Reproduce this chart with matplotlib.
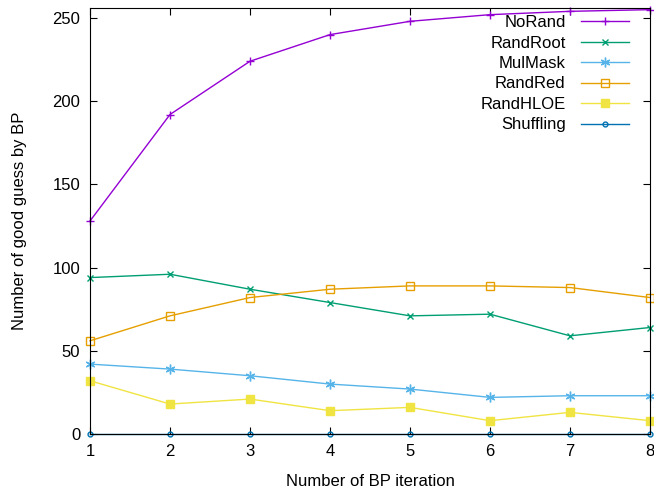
import numpy as np
import matplotlib.pyplot as plt

plt.rcParams['font.family'] = ['Liberation Sans', 'DejaVu Sans']

iterations = [1, 2, 3, 4, 5, 6, 7, 8]
norand = [128, 192, 224, 240, 248, 252, 254, 255]
randroot = [94, 96, 87, 79, 71, 72, 59, 64]
mulmask = [42, 39, 35, 30, 27, 22, 23, 23]
randred = [56, 71, 82, 87, 89, 89, 88, 82]
randhloe = [32, 18, 21, 14, 16, 8, 13, 8]
shuffling = [0, 0, 0, 0, 0, 0, 0, 0]

fig = plt.figure(figsize=(6.54, 4.91), dpi=100)
ax = fig.add_axes([90 / 654, 1 - 434 / 491, 560 / 654, 426 / 491])

ax.plot(iterations, norand, color='#9400d3', lw=1, marker='+', ms=6, label='NoRand', clip_on=False)
ax.plot(iterations, randroot, color='#009e73', lw=1, marker='x', ms=5, label='RandRoot', clip_on=False)
ax.plot(iterations, mulmask, color='#56b4e9', lw=1, marker=(6, 2, 0), ms=7, label='MulMask', clip_on=False)
ax.plot(iterations, randred, color='#e69f00', lw=1, marker='s', ms=5.5, mfc='none', label='RandRed', clip_on=False)
ax.plot(iterations, randhloe, color='#f0e442', lw=1, marker='s', ms=5.5, label='RandHLOE', clip_on=False)
ax.plot(iterations, shuffling, color='#0072b2', lw=1, marker='o', ms=3.5, mfc='none', label='Shuffling', clip_on=False)

ax.set_xlim(1, 8)
ax.set_ylim(0, 256)
ax.set_xticks(iterations)
ax.set_yticks([0, 50, 100, 150, 200, 250])
ax.tick_params(direction='in', top=True, right=True, labelsize=12, length=5, pad=7)
ax.set_xlabel('Number of BP iteration', fontsize=12, labelpad=11)
ax.set_ylabel('Number of good guess by BP', fontsize=12, labelpad=18)

leg = ax.legend(loc='upper right', frameon=False, markerfirst=False, fontsize=12,
                handlelength=2.9, labelspacing=0.33, borderaxespad=0.0, borderpad=0.0,
                handletextpad=0.9, bbox_to_anchor=(1 - 21 / 560, 1 - 7 / 426))
for t in leg.get_texts():
    t.set_ha('right')

fig.savefig('out.png', dpi=100)
